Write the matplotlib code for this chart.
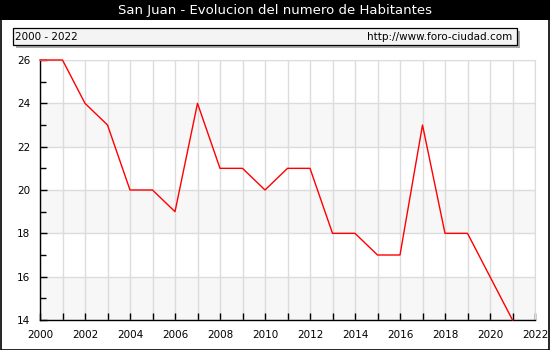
import matplotlib
matplotlib.use('Agg')
import matplotlib.pyplot as plt
from matplotlib.patches import Rectangle

# datos de habitantes
years = [2000, 2001, 2002, 2003, 2004, 2005, 2006, 2007, 2008, 2009, 2010,
         2011, 2012, 2013, 2014, 2015, 2016, 2017, 2018, 2019, 2020, 2021]
habitantes = [26, 26, 24, 23, 20, 20, 19, 24, 21, 21, 20,
              21, 21, 18, 18, 17, 17, 23, 18, 18, 16, 14]
title = 'San Juan - Evolucion del numero de Habitantes'
periodo = '2000 - 2022'
web = 'http://www.foro-ciudad.com'

W, H = 550, 350
fig = plt.figure(figsize=(W / 100, H / 100), dpi=100)
fig.patch.set_facecolor('white')

# marco exterior y barra de titulo
fig.add_artist(Rectangle((0.5 / W, 0.5 / H), 1 - 1.5 / W, 1 - 1.5 / H, transform=fig.transFigure,
                         fill=False, edgecolor='black', lw=1.2))
fig.add_artist(Rectangle((0, 1 - 20 / H), 1, 20 / H, transform=fig.transFigure,
                         facecolor='black', edgecolor='none'))
fig.text(0.5, 1 - 10.5 / H, title, color='white', ha='center', va='center', fontsize=9.5)

# caja con periodo y web (con sombra)
fig.add_artist(Rectangle((16 / W, 1 - 48 / H), 504 / W, 17 / H, transform=fig.transFigure,
                         facecolor='#aaaaaa', edgecolor='none'))
fig.add_artist(Rectangle((13 / W, 1 - 45 / H), 504 / W, 17 / H, transform=fig.transFigure,
                         facecolor='#f4f4f4', edgecolor='black', lw=0.9))
fig.text(15 / W, 1 - 36.5 / H, periodo, ha='left', va='center', fontsize=7.5)
fig.text(512 / W, 1 - 36.5 / H, web, ha='right', va='center', fontsize=7.5)

# area del grafico
x0, x1, y0, y1 = 40, 535, 60, 320
ax = fig.add_axes([x0 / W, 1 - y1 / H, (x1 - x0) / W, (y1 - y0) / H])
ax.set_xlim(2000, 2022)
ax.set_ylim(14, 26)

for b in range(14, 26, 4):
    ax.axhspan(b, b + 2, color='#f7f7f7', zorder=0, lw=0)

ax.set_xticks(range(2000, 2023, 2))
ax.set_xticks(range(2001, 2022, 2), minor=True)
ax.set_yticks(range(14, 27, 2))
ax.set_yticks(range(15, 26, 2), minor=True)
ax.grid(True, which='major', color='#dcdcdc', lw=1, zorder=1)
ax.grid(True, which='minor', axis='x', color='#dcdcdc', lw=1, zorder=1)

ax.plot(years, habitantes, color='red', lw=1, zorder=3, clip_on=False)

ax.tick_params(which='both', direction='in', length=5, width=1, labelsize=7.5)
ax.tick_params(axis='x', which='major', pad=7)
ax.tick_params(axis='y', which='major', pad=7)
ax.tick_params(axis='y', which='minor', length=4)
for s in ['top', 'right']:
    ax.spines[s].set_color('#dcdcdc')
for s in ['left', 'bottom']:
    ax.spines[s].set_color('black')
    ax.spines[s].set_linewidth(1)

fig.savefig('out.png', dpi=100)
